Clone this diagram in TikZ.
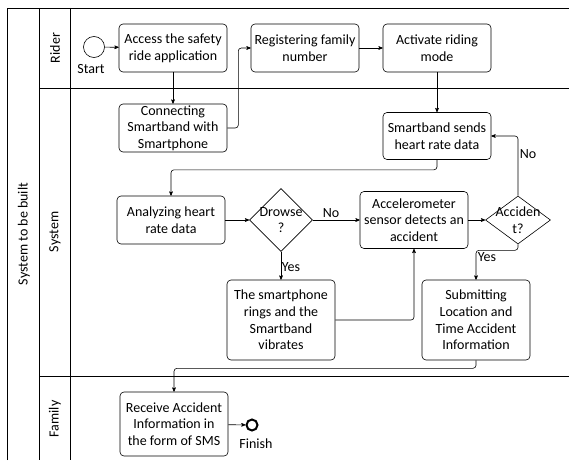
\documentclass[tikz,border=0pt]{standalone}
\usepackage{fontspec}
\setmainfont{Carlito}
\usepackage{tikz}
\usetikzlibrary{calc}
\usetikzlibrary{arrows}
\usetikzlibrary{shapes.geometric}
\newcommand{\lanefont}{\fontsize{14}{16.7}\selectfont}
\tikzset{
  task/.style={draw, line width=.6pt, rounded corners=4, align=center, minimum width=108, inner sep=1, font=\lanefont},
  decision/.style={draw, line width=.6pt, diamond, inner sep=0},
  flow/.style={line width=.6pt, rounded corners=3, ->, >=stealth'},
  lanetitle/.style={rotate=90, font=\lanefont},
  flowtext/.style={font=\lanefont, inner sep=1}
}
\begin{document}
\begin{tikzpicture}[x=1pt, y=-1pt]
\useasboundingbox (0,0) rectangle (569,460);
\draw[line width=.6pt] (7,460)--(7,8)--(569,8);
\draw[line width=.6pt] (39,8)--(39,460);
\draw[line width=.6pt] (70,8)--(70,460);
\draw[line width=1pt] (39,88)--(569,88);
\draw[line width=1pt] (39,376)--(569,376);
\node[lanetitle] (pool) at (24,234) {System to be built};
\node[lanetitle] (rider) at (55,48) {Rider};
\node[lanetitle] (system) at (55,232) {System};
\node[lanetitle] (family) at (55,419) {Family};

\node[draw, circle, line width=.6pt, minimum size=21, inner sep=0] (start) at (94,47) {};
\node[flowtext] at (91,69) {Start};
\node[task, minimum height=48] (access) at (173,48) {Access the safety\\ride application};
\node[task, minimum height=48] (register) at (305,48) {Registering family\\number};
\node[task, minimum height=48] (activate) at (437,48) {Activate riding\\mode};
\node[task, minimum height=48] (connect) at (173,128) {Connecting\\Smartband with\\Smartphone};
\node[task, minimum height=47] (sends) at (437,136) {Smartband sends\\heart rate data};
\node[task, minimum height=48] (analyze) at (171,220) {Analyzing heart\\rate data};
\node[decision, minimum width=63, minimum height=63, label={[align=center, font=\lanefont]center:{Drowse\\?}}] (drowse) at (281,220) {};
\node[task, minimum height=57] (accel) at (414,220) {Accelerometer\\sensor detects an\\accident};
\node[decision, minimum width=65, minimum height=48, label={[align=center, font=\lanefont]center:{Acciden\\t?}}] (accid) at (518,220) {};
\node[task, minimum height=80] (ring) at (281,320) {The smartphone\\rings and the\\Smartband\\vibrates};
\node[task, minimum height=80] (submit) at (476,320) {Submitting\\Location and\\Time Accident\\Information};
\node[task, minimum height=64] (receive) at (174,424) {Receive Accident\\Information in\\the form of SMS};
\node[draw, circle, line width=2pt, minimum size=11, inner sep=0] (finish) at (252,425) {};
\node[flowtext] at (256,444) {Finish};

\draw[flow] (start) -- (access);
\draw[flow] (access) -- (connect);
\draw[flow] (connect.east) -- ++(11,0) |- (register.west);
\draw[flow] (register) -- (activate);
\draw[flow] (activate) -- (sends);
\draw[flow] (sends.south) -- ++(0,10) -| (analyze.north);
\draw[flow] (analyze) -- (drowse);
\draw[flow] (drowse.east) -- (accel.west);
\node[flowtext] at (331,213) {No};
\draw[flow] (drowse.south) -- (ring.north);
\node[flowtext] at (291,267) {Yes};
\draw[flow] (ring.east) -| (accel.south);
\draw[flow] (accel.east) -- (accid.west);
\draw[flow] (accid.north) |- (sends.east);
\node[flowtext] at (528,154) {No};
\draw[flow] (accid.south) -- ++(0,6) -| (submit.north);
\node[flowtext] at (487,257) {Yes};
\draw[flow] (submit.south) -- ++(0,8) -| (receive.north);
\draw[flow] (receive) -- (finish);
\end{tikzpicture}
\end{document}
